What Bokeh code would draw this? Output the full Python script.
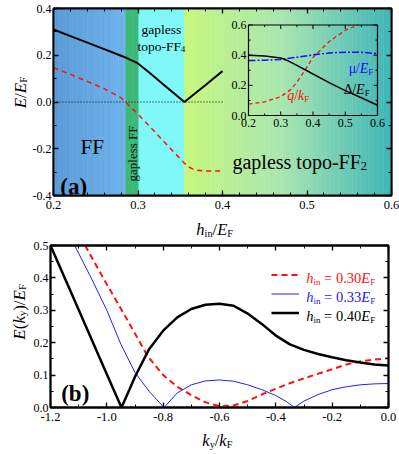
import numpy as np
from bokeh.plotting import figure
from bokeh.models import (Label, LinearAxis, Range1d, FixedTicker, NumeralTickFormatter, Legend,
                          LegendItem, CustomLabelingPolicy)
from bokeh.layouts import column, row
from bokeh.embed import file_html
from bokeh.resources import INLINE

# ---------------- data: panel (a) ----------------
h_gap = [0.20, 0.22, 0.24, 0.26, 0.28, 0.2856, 0.29, 0.30, 0.31, 0.32, 0.33, 0.34, 0.35, 0.355,
         0.36, 0.37, 0.38, 0.39, 0.40]
E_gap = [0.31, 0.282, 0.254, 0.226, 0.198, 0.19, 0.182, 0.165, 0.136, 0.106, 0.075, 0.045, 0.015, 0.0,
         0.015, 0.044, 0.073, 0.103, 0.132]
h_red = [0.20, 0.22, 0.24, 0.26, 0.28, 0.2856, 0.29, 0.30, 0.31, 0.32, 0.33, 0.34, 0.35, 0.355,
         0.36, 0.365, 0.37, 0.38, 0.39, 0.40]
E_red = [0.147, 0.118, 0.088, 0.057, 0.018, 0.0, -0.017, -0.052, -0.09, -0.128, -0.167, -0.205, -0.243,
         -0.262, -0.278, -0.287, -0.292, -0.295, -0.295, -0.295]
zero_x = [0.2, 0.4]
zero_y = [0.0, 0.0]
phase_edges = [0.2, 0.2856, 0.301, 0.355, 0.6]
a_xticks = [0.2, 0.3, 0.4, 0.5, 0.6]
a_yticks = [-0.4, -0.2, 0.0, 0.2, 0.4]

# inset
ins_xlim = [0.2, 0.6]
ins_ylim = [0.0, 0.6]
ins_xticks = [0.2, 0.3, 0.4, 0.5, 0.6]
ins_xticklabels = ["0.2", "0.3", "0.4", "0.5", "0.6"]
ins_yticks = [0.0, 0.2, 0.4, 0.6]
ins_yticklabels = ["0.0", "0.2", "0.4", "0.6"]
ins_xminor = [0.25, 0.35, 0.45, 0.55]
ins_yminor = [0.1, 0.3, 0.5]
d_h = [0.2, 0.25, 0.3, 0.32, 0.35, 0.4, 0.45, 0.5, 0.55, 0.6]
d_val = [0.400, 0.395, 0.382, 0.365, 0.332, 0.275, 0.218, 0.165, 0.118, 0.068]
mu_h = [0.2, 0.25, 0.3, 0.35, 0.4, 0.45, 0.5, 0.55, 0.6]
mu_val = [0.365, 0.366, 0.372, 0.386, 0.402, 0.414, 0.42, 0.419, 0.41]
q_h = [0.2, 0.25, 0.3, 0.33, 0.35, 0.375, 0.4, 0.45, 0.5, 0.54]
q_val = [0.075, 0.09, 0.125, 0.17, 0.22, 0.30, 0.385, 0.49, 0.565, 0.6]

# ---------------- data: panel (b) ----------------
k_040 = [-1.2, -1.1, -1.0, -0.948, -0.92, -0.9, -0.85, -0.8, -0.75, -0.7, -0.65, -0.6, -0.55, -0.5,
         -0.45, -0.4, -0.35, -0.3, -0.25, -0.2, -0.15, -0.1, -0.05, 0.0]
E_040 = [0.5, 0.302, 0.103, 0.0, 0.055, 0.095, 0.18, 0.237, 0.278, 0.304, 0.317, 0.32, 0.314, 0.29,
         0.258, 0.222, 0.195, 0.178, 0.165, 0.155, 0.146, 0.139, 0.133, 0.13]
k_033 = [-1.114, -1.05, -1.0, -0.95, -0.9, -0.85, -0.797, -0.75, -0.7, -0.65, -0.6, -0.55, -0.5,
         -0.45, -0.4, -0.36, -0.334, -0.3, -0.25, -0.2, -0.15, -0.1, -0.05, 0.0]
E_033 = [0.5, 0.39, 0.3, 0.195, 0.108, 0.05, 0.0, 0.045, 0.07, 0.082, 0.085, 0.081, 0.07,
         0.055, 0.037, 0.017, 0.0, 0.02, 0.04, 0.055, 0.064, 0.07, 0.073, 0.074]
k_030 = [-1.077, -1.0, -0.95, -0.9, -0.856, -0.8, -0.75, -0.7, -0.65, -0.6, -0.55, -0.5, -0.45, -0.4,
         -0.35, -0.3, -0.25, -0.2, -0.15, -0.1, -0.05, 0.0]
E_030 = [0.5, 0.38, 0.305, 0.228, 0.16, 0.1, 0.064, 0.038, 0.016, 0.004, 0.006, 0.02, 0.04, 0.058,
         0.075, 0.09, 0.104, 0.118, 0.133, 0.142, 0.148, 0.152]
b_xticks = [-1.2, -1.0, -0.8, -0.6, -0.4, -0.2, 0.0]
b_yticks = [0.0, 0.1, 0.2, 0.3, 0.4, 0.5]
legend_vals = ["0.30", "0.33", "0.40"]

FONT = "Liberation Serif"

W = {
    "normal": {'0': 500, '1': 500, '2': 500, '3': 500, '4': 500, '5': 500, '6': 500, '7': 500, '8': 500,
               '9': 500, '.': 250, ' ': 250, '=': 564, '-': 333, '/': 278, '(': 333, ')': 333, 'a': 444,
               'g': 500, 'p': 500, 'l': 278, 'e': 444, 's': 389, 'F': 556, 't': 278, 'o': 500, 'i': 278,
               'n': 500, 'y': 500, 'μ': 500, 'Δ': 612},
    "italic": {'E': 611, 'h': 500, 'k': 444, 'q': 500, 'F': 611, 'y': 444, '/': 278, 'μ': 500, 'Δ': 612},
    "bold": {'(': 333, 'a': 500, ')': 333, 'b': 556},
}


def tw(s, st):
    return sum(W.get(st, W["normal"]).get(ch, 500) for ch in s) / 1000.0


def rich(p, x, y, parts, size, color="black", angle=0.0, align="left", dx=0.0, dy=0.0, **kw):
    items = []
    total = 0.0
    for t, st, sub in parts:
        fs = size * 0.62 if sub else size
        lead = len(t) - len(t.lstrip(" "))
        total += lead * 0.25 * fs
        t2 = t.strip(" ")
        items.append((t2, st, fs, total, -0.22 * size if sub else 0.0))
        total += tw(t.lstrip(" "), st) * fs
    start = -total / 2 if align == "center" else 0.0
    for t, st, fs, off, shift in items:
        a = start + off
        if angle == 0:
            xo, yo = dx + a, dy + shift
        else:
            xo, yo = dx - shift, dy + a
        p.add_layout(Label(x=x, y=y, x_offset=xo, y_offset=yo, text=t, text_font=FONT,
                           text_font_size=f"{fs:.1f}px", text_font_style=st, text_color=color,
                           angle=angle, text_baseline="alphabetic", text_align="left", **kw))


def minor_of(ticks, n):
    out = []
    for a, b in zip(ticks[:-1], ticks[1:]):
        out += [a + (b - a) * i / n for i in range(1, n)]
    return out


def style_axes(p, xt, xn, yt, yn):
    p.xaxis[0].ticker = FixedTicker(ticks=xt, minor_ticks=minor_of(xt, xn))
    p.yaxis[0].ticker = FixedTicker(ticks=yt, minor_ticks=minor_of(yt, yn))
    p.add_layout(LinearAxis(ticker=p.xaxis[0].ticker), "above")
    p.add_layout(LinearAxis(ticker=p.yaxis[0].ticker), "right")
    for ax in p.xaxis + p.yaxis:
        ax.major_tick_in = 5
        ax.major_tick_out = 0
        ax.minor_tick_in = 3
        ax.minor_tick_out = 0
        ax.axis_line_width = 1.8
        ax.major_tick_line_width = 1.3
        ax.minor_tick_line_width = 1.0
        ax.major_label_text_font = FONT
        ax.major_label_text_font_size = "12.5px"
        ax.major_label_text_color = "black"
        ax.formatter = NumeralTickFormatter(format="0.0")
    p.yaxis[0].major_label_text_font_size = "12px"
    p.xaxis[0].major_label_standoff = 1
    p.yaxis[0].major_label_standoff = 2
    for ax in (p.above[0], p.right[0]):
        ax.major_label_text_font_size = "1px"
        ax.major_label_standoff = 0
        ax.major_label_policy = CustomLabelingPolicy(
            code="for (const i of Array.from(indices)) indices.unset(i); return indices")
    p.xgrid.visible = False
    p.ygrid.visible = False
    p.outline_line_color = "black"
    p.outline_line_width = 1.8


def hex2rgb(c):
    c = c.lstrip("#")
    return np.array([int(c[i:i + 2], 16) for i in (0, 2, 4)], dtype=float)


def grad(stops, n):
    out = []
    for t in np.linspace(0, 1, n):
        for (p0, c0), (p1, c1) in zip(stops[:-1], stops[1:]):
            if p0 <= t <= p1:
                f = (t - p0) / (p1 - p0) if p1 > p0 else 0
                rgb = hex2rgb(c0) * (1 - f) + hex2rgb(c1) * f
                out.append("#%02x%02x%02x" % tuple(int(round(v)) for v in rgb))
                break
    return out


def label_fig(fw, fh, xr, yr, mbl=0, mbr=0, mbt=0, mbb=0):
    f = figure(frame_width=fw, frame_height=fh, x_range=xr, y_range=yr, x_axis_location=None,
               y_axis_location=None, toolbar_location=None, output_backend="svg", title=None,
               min_border_left=mbl, min_border_right=mbr, min_border_top=mbt, min_border_bottom=mbb,
               outline_line_color=None, background_fill_color="white", border_fill_color="white")
    f.xgrid.visible = False
    f.ygrid.visible = False
    return f


FW = 338
LW = 29            # width of the y-label strip
MBL, MBR = 21, 10  # borders around the frames
FHA, FHB = 187, 162
A_TOP, A_BOT = 8, 16
B_TOP, B_BOT = 7, 16
XA_H, XB_H = 27, 29

# ================= panel (a) =================
pa = figure(frame_width=FW, frame_height=FHA, x_range=Range1d(0.2, 0.6), y_range=Range1d(-0.4, 0.4),
            output_backend="svg", toolbar_location=None, min_border_left=MBL, min_border_right=MBR,
            min_border_top=A_TOP, min_border_bottom=A_BOT, background_fill_color="white", title=None)
style_axes(pa, a_xticks, 5, a_yticks, 2)

region_styles = [
    [(0, "#5a9ad6"), (1, "#6cb2ec")],
    [(0, "#3cb878"), (1, "#3cb878")],
    [(0, "#80f8f8"), (1, "#80f8f8")],
    [(0, "#c6f77e"), (0.47, "#a8e6b0"), (1, "#40b6b8")],
]
nslices = [30, 2, 2, 80]
for (x0, x1), stops, n in zip(zip(phase_edges[:-1], phase_edges[1:]), region_styles, nslices):
    edges = np.linspace(x0, x1, n + 1)
    cols = grad(stops, n)
    pa.quad(left=edges[:-1], right=edges[1:], bottom=-0.4, top=0.4, fill_color=cols,
            line_color=cols, line_width=0.6)

pa.line(zero_x, zero_y, line_color="black", line_width=1, line_dash="1 2")
pa.line(h_red, E_red, line_color="#ff1010", line_width=1.5, line_dash="5 4")
pa.line(h_gap, E_gap, line_color="black", line_width=2)

# inset via extra ranges (pixel box inside the frame)
ins_l, ins_r, ins_t, ins_b = 195, 324, 16.5, 107
u = (ins_xlim[1] - ins_xlim[0]) / (ins_r - ins_l)
v = (ins_ylim[1] - ins_ylim[0]) / (ins_b - ins_t)
ix0 = ins_xlim[0] - ins_l * u
iy1 = ins_ylim[1] + ins_t * v
pa.extra_x_ranges = {"ix": Range1d(ix0, ix0 + FW * u)}
pa.extra_y_ranges = {"iy": Range1d(iy1 - FHA * v, iy1)}
IR = dict(x_range_name="ix", y_range_name="iy")

pa.line(q_h, q_val, line_color="#ff1010", line_width=1.3, line_dash="4 3", **IR)
pa.line(mu_h, mu_val, line_color="#1010ff", line_width=1.5, line_dash="7 2 2 2", **IR)
pa.line(d_h, d_val, line_color="black", line_width=1.5, **IR)
pa.quad(left=ins_xlim[0], right=ins_xlim[1], bottom=ins_ylim[0], top=ins_ylim[1],
        fill_alpha=0, line_color="black", line_width=1.2, **IR)
for ticks, ln in ((ins_xticks, 4), (ins_xminor, 2)):
    pa.ray(x=ticks, y=ins_ylim[0], length=ln, angle=np.pi / 2, length_units="screen",
           line_color="black", line_width=1, **IR)
    pa.ray(x=ticks, y=ins_ylim[1], length=ln, angle=-np.pi / 2, length_units="screen",
           line_color="black", line_width=1, **IR)
for ticks, ln in ((ins_yticks, 4), (ins_yminor, 2)):
    pa.ray(x=ins_xlim[0], y=ticks, length=ln, angle=0, length_units="screen",
           line_color="black", line_width=1, **IR)
    pa.ray(x=ins_xlim[1], y=ticks, length=ln, angle=np.pi, length_units="screen",
           line_color="black", line_width=1, **IR)
pa.text(x=ins_xticks, y=ins_ylim[0], text=ins_xticklabels, text_align="center", text_baseline="top",
        y_offset=3, text_font=FONT, text_font_size="12px", text_color="black", **IR)
pa.text(x=ins_xlim[0], y=ins_yticks, text=ins_yticklabels, text_align="right", text_baseline="middle",
        x_offset=-2, text_font=FONT, text_font_size="12px", text_color="black", **IR)

rich(pa, 0.511, 0.312, [("μ", "normal", False), ("/", "normal", False), ("E", "italic", False),
                        ("F", "normal", True)], 14, color="#1010ff", **IR)
rich(pa, 0.495, 0.172, [("Δ", "normal", False), ("/", "normal", False), ("E", "italic", False),
                        ("F", "normal", True)], 14, color="black", **IR)
rich(pa, 0.32, 0.133, [("q", "italic", False), ("/", "normal", False), ("k", "italic", False),
                       ("F", "normal", True)], 14, color="#ff1010", **IR)

# region texts
rich(pa, 0.3276, 0.311, [("gapless", "normal", False)], 13.5, align="center")
rich(pa, 0.3276, 0.239, [("topo-FF", "normal", False), ("4", "normal", True)], 13.5, align="center")
rich(pa, 0.2459, -0.193, [("FF", "normal", False)], 21, align="center")
pa.add_layout(Label(x=0.2933, y=-0.22, text="gapless FF", angle=np.pi / 2, text_align="center",
                    text_baseline="middle", text_font=FONT, text_font_size="13px", text_color="#101010"))
rich(pa, 0.4118, -0.255, [("gapless topo-FF", "normal", False), ("2", "normal", True)], 20)
rich(pa, 0.208, -0.361, [("(a)", "bold", False)], 23)

# y label strip (a)
ya = label_fig(LW, FHA, Range1d(0, LW), pa.y_range, mbt=A_TOP, mbb=A_BOT)
rich(ya, 19.5, 0.04, [("E", "italic", False), ("/", "normal", False), ("E", "italic", False),
                      ("F", "normal", True)], 17, angle=np.pi / 2, align="center")
# x label strip (a)
xa = label_fig(FW, XA_H, pa.x_range, Range1d(0, XA_H), mbl=LW + MBL, mbr=MBR)
rich(xa, 0.3726, 9, [("h", "italic", False), ("in", "normal", True), ("/", "normal", False),
                     ("E", "italic", False), ("F", "normal", True)], 16.5)

# ================= panel (b) =================
pb = figure(frame_width=FW, frame_height=FHB, x_range=Range1d(-1.2, 0.0), y_range=Range1d(0.0, 0.5),
            output_backend="svg", toolbar_location=None, min_border_left=MBL, min_border_right=MBR,
            min_border_top=B_TOP, min_border_bottom=B_BOT, background_fill_color="white", title=None)
style_axes(pb, b_xticks, 2, b_yticks, 2)

r30 = pb.line(k_030, E_030, line_color="#ff1010", line_width=2, line_dash="6 4")
r33 = pb.line(k_033, E_033, line_color="#2020ff", line_width=1)
r40 = pb.line(k_040, E_040, line_color="black", line_width=2.5)

leg = Legend(items=[LegendItem(label=" ", renderers=[r]) for r in (r30, r33, r40)],
             location=(221, 85), glyph_width=28, glyph_height=19, padding=0, spacing=0, margin=0,
             label_standoff=0, label_text_font_size="6px", border_line_alpha=0,
             background_fill_alpha=0, label_height=6, label_width=2)
pb.add_layout(leg)
leg_y = [0.4137, 0.355, 0.2966]
leg_c = ["#ff1010", "#2020ff", "black"]
for val, yy, cc in zip(legend_vals, leg_y, leg_c):
    rich(pb, -0.292, yy, [("h", "italic", False), ("in", "normal", True), (" = " + val, "normal", False),
                          ("E", "italic", False), ("F", "normal", True)], 14.5, color=cc, dy=-5)

rich(pb, -1.162, 0.0418, [("(b)", "bold", False)], 23)

yb = label_fig(LW, FHB, Range1d(0, LW), pb.y_range, mbt=B_TOP, mbb=B_BOT)
rich(yb, 18.5, 0.295, [("E", "italic", False), ("(", "normal", False), ("k", "italic", False),
                       ("y", "normal", True), (")", "normal", False), ("/", "normal", False),
                       ("E", "italic", False), ("F", "normal", True)], 17, angle=np.pi / 2, align="center")
xb = label_fig(FW, XB_H, pb.x_range, Range1d(0, XB_H), mbl=LW + MBL, mbr=MBR)
rich(xb, -0.661, 12, [("k", "italic", False), ("y", "normal", True), ("/", "normal", False),
                      ("k", "italic", False), ("F", "normal", True)], 16.5)

layout = column(row(ya, pa), xa, row(yb, pb), xb)
open("out.html", "w").write(file_html(layout, INLINE))
